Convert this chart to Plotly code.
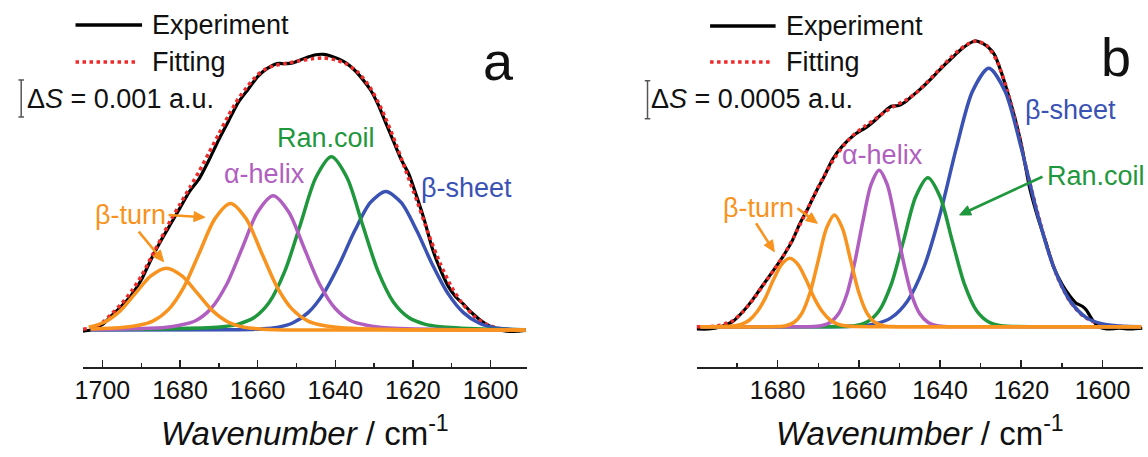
import math
import plotly.graph_objects as go

# ---------------- DATA (absorbance in units of 1e-3 a.u., x in cm-1) ----------------
# Panel a
a_exp_x = [1705, 1703, 1700, 1697.5, 1695, 1692.5, 1690, 1687.5, 1685, 1682.5,
           1680, 1677.5, 1675, 1672.5, 1670, 1667.5, 1665, 1662.5, 1660, 1657.5,
           1655, 1653, 1651, 1649, 1647, 1645, 1643, 1641, 1639, 1637,
           1635, 1633, 1631, 1629, 1627, 1625, 1623, 1621, 1619, 1617,
           1615, 1613, 1611, 1609, 1607, 1605, 1603, 1601, 1599, 1597,
           1595, 1593, 1591]
a_exp_y = [-0.03, 0.0, 0.15, 0.4, 0.65, 0.95, 1.35, 1.9, 2.4, 2.85,
           3.3, 3.75, 4.1, 4.6, 5.15, 5.65, 6.15, 6.5, 6.85, 7.07,
           7.2, 7.2, 7.22, 7.3, 7.38, 7.44, 7.45, 7.4, 7.32, 7.2,
           7.02, 6.78, 6.5, 6.1, 5.6, 5.1, 4.6, 4.2, 3.6, 2.95,
           2.2, 1.65, 1.2, 0.9, 0.7, 0.48, 0.3, 0.15, 0.05, -0.01,
           -0.04, -0.03, -0.01]
a_fit_x = [1705, 1702, 1700, 1697.5, 1695, 1692.5, 1690, 1687.5, 1685, 1682.5,
           1680, 1677.5, 1675, 1672.5, 1670, 1667.5, 1665, 1662.5, 1660, 1657.5,
           1655, 1652, 1649, 1646, 1643, 1640, 1637, 1634, 1631, 1628,
           1625, 1622, 1619, 1616, 1613, 1610, 1607, 1604, 1601, 1598,
           1595, 1591]
a_fit_y = [0.02, 0.08, 0.2, 0.45, 0.72, 1.05, 1.45, 1.95, 2.45, 2.95,
           3.4, 3.85, 4.3, 4.8, 5.3, 5.8, 6.25, 6.6, 6.9, 7.08,
           7.16, 7.22, 7.28, 7.33, 7.35, 7.3, 7.18, 6.95, 6.55, 5.95,
           5.2, 4.35, 3.5, 2.6, 1.8, 1.15, 0.68, 0.35, 0.15, 0.05,
           0.01, 0.0]
a_bturn1_x = [1703.5, 1699.5, 1695.5, 1691.5, 1687.5, 1683.5, 1679.5, 1675.5, 1671.5, 1667.5,
              1663.5, 1659.5, 1655.5, 1645, 1591]
a_bturn1_y = [0.075, 0.21, 0.51, 0.99, 1.46, 1.67, 1.46, 0.99, 0.51, 0.21,
              0.075, 0.03, 0.01, 0.0, 0.0]
a_bturn2_x = [1703, 1695, 1691, 1687, 1683, 1679, 1675, 1671, 1667, 1663,
              1659, 1655, 1651, 1647, 1643, 1639, 1631, 1610, 1591]
a_bturn2_y = [0.03, 0.07, 0.12, 0.24, 0.55, 1.16, 2.09, 3.01, 3.42, 3.01,
              2.09, 1.16, 0.55, 0.24, 0.12, 0.07, 0.03, 0.0, 0.0]
a_helix_x = [1703, 1694, 1684, 1680, 1676, 1672, 1668, 1664, 1660, 1656,
             1652, 1648, 1644, 1640, 1636, 1632, 1628, 1615, 1591]
a_helix_y = [0.01, 0.03, 0.07, 0.13, 0.25, 0.58, 1.23, 2.21, 3.19, 3.63,
             3.19, 2.21, 1.23, 0.58, 0.25, 0.13, 0.07, 0.02, 0.0]
a_coil_x = [1703, 1680, 1669, 1665, 1661, 1657, 1653, 1649, 1645, 1641,
            1637, 1633, 1629, 1625, 1621, 1617, 1613, 1602, 1591]
a_coil_y = [0.01, 0.04, 0.09, 0.16, 0.33, 0.75, 1.59, 2.85, 4.12, 4.68,
            4.12, 2.85, 1.59, 0.75, 0.33, 0.16, 0.09, 0.03, 0.01]
a_sheet_x = [1703, 1665, 1659, 1655, 1651, 1647, 1643, 1639, 1635, 1631,
             1627, 1623, 1619, 1615, 1611, 1607, 1603, 1599, 1595, 1591]
a_sheet_y = [0.0, 0.01, 0.03, 0.07, 0.19, 0.47, 0.99, 1.77, 2.68, 3.44,
             3.74, 3.44, 2.68, 1.77, 0.99, 0.47, 0.19, 0.06, 0.02, 0.0]

# Panel b
b_exp_x = [1700, 1697, 1694, 1691, 1688.5, 1686.5, 1684.5, 1682.5, 1680.5, 1678.5,
           1676.5, 1674.5, 1672.5, 1670.5, 1668.5, 1666.5, 1664, 1661, 1658, 1655.5,
           1653.5, 1652, 1650.2, 1648.5, 1647, 1645, 1643, 1641, 1639, 1637,
           1635, 1633, 1631.5, 1630, 1628.2, 1626.6, 1625, 1623.4, 1621.7, 1620,
           1618, 1616, 1614, 1612, 1610, 1608, 1606.5, 1605, 1604, 1602.5,
           1601, 1599, 1596, 1593, 1590.2]
b_exp_y = [-0.03, -0.03, 0.0, 0.07, 0.2, 0.33, 0.48, 0.63, 0.78, 0.94,
           1.12, 1.36, 1.56, 1.78, 1.98, 2.2, 2.38, 2.53, 2.63, 2.74,
           2.84, 2.9, 2.91, 2.96, 3.03, 3.12, 3.22, 3.33, 3.44, 3.54,
           3.64, 3.72, 3.76, 3.74, 3.68, 3.58, 3.36, 3.09, 2.77, 2.4,
           1.84, 1.45, 1.12, 0.78, 0.56, 0.4, 0.31, 0.27, 0.22, 0.09,
           0.0, -0.03, -0.02, -0.03, -0.02]
b_fit_x = [1700, 1697, 1694, 1691, 1688.5, 1686, 1683.5, 1681, 1678.5, 1676,
           1673.5, 1671, 1668.5, 1666, 1663.5, 1661, 1658.5, 1656, 1653.5, 1651,
           1648.5, 1646, 1643.5, 1641, 1638.5, 1636, 1633.5, 1631, 1628.5, 1626,
           1623.5, 1621, 1618.5, 1616, 1613.5, 1611, 1608, 1605, 1602, 1598,
           1590.5]
b_fit_y = [0.0, 0.0, 0.02, 0.08, 0.2, 0.36, 0.55, 0.74, 0.94, 1.18,
           1.45, 1.73, 1.99, 2.22, 2.4, 2.54, 2.64, 2.73, 2.83, 2.91,
           2.98, 3.07, 3.2, 3.34, 3.48, 3.61, 3.71, 3.76, 3.70, 3.5,
           3.12, 2.62, 2.02, 1.5, 1.02, 0.64, 0.33, 0.15, 0.06, 0.01,
           0.0]
b_bturn1_x = [1699, 1693, 1691, 1689, 1687, 1685, 1683, 1681, 1679, 1677,
              1675, 1673, 1671, 1669, 1667, 1665, 1663, 1661, 1650, 1590.5]
b_bturn1_y = [0.0, 0.002, 0.009, 0.03, 0.085, 0.20, 0.38, 0.62, 0.82, 0.90,
              0.82, 0.62, 0.38, 0.20, 0.085, 0.03, 0.009, 0.002, 0.0, 0.0]
b_bturn2_x = [1699, 1680, 1678, 1676, 1674, 1672, 1670, 1668, 1666, 1664,
              1662, 1660, 1658, 1656, 1654, 1652, 1640, 1590.5]
b_bturn2_y = [0.0, 0.002, 0.013, 0.055, 0.18, 0.45, 0.87, 1.29, 1.47, 1.29,
              0.87, 0.45, 0.18, 0.055, 0.013, 0.002, 0.0, 0.0]
b_helix_x = [1699, 1680, 1671, 1669, 1667, 1665, 1663, 1661, 1659, 1657,
             1655, 1653, 1651, 1649, 1647, 1645, 1643, 1641, 1639, 1625, 1590.5]
b_helix_y = [0.0, 0.0, 0.004, 0.016, 0.059, 0.17, 0.42, 0.85, 1.39, 1.87,
             2.06, 1.87, 1.39, 0.85, 0.42, 0.17, 0.059, 0.016, 0.004, 0.0, 0.0]
b_coil_x = [1699, 1670, 1661, 1658, 1655, 1652, 1649, 1646, 1643, 1640,
            1637, 1634, 1631, 1628, 1625, 1615, 1590.5]
b_coil_y = [0.0, 0.0, 0.013, 0.061, 0.21, 0.56, 1.13, 1.71, 1.96, 1.71,
            1.13, 0.56, 0.21, 0.061, 0.013, 0.0, 0.0]
b_sheet_x = [1699, 1670, 1660, 1656, 1652, 1648, 1644, 1640, 1636, 1632,
             1628, 1624, 1620, 1616, 1612, 1608, 1604, 1600, 1596, 1590.5]
b_sheet_y = [0.0, 0.0, 0.009, 0.037, 0.12, 0.34, 0.78, 1.48, 2.35, 3.10,
             3.40, 3.10, 2.35, 1.48, 0.78, 0.34, 0.12, 0.037, 0.009, 0.0]

tick_vals = [1700, 1680, 1660, 1640, 1620, 1600]
scale_a = 1.0    # 0.001 a.u.
scale_b = 0.5    # 0.0005 a.u.
scale_a_label = "Δ<i>S</i> = 0.001 a.u."
scale_b_label = "Δ<i>S</i> = 0.0005 a.u."
x_title = "<i>Wavenumber</i> / cm<sup>-1</sup>"

# ---------------- STYLE ----------------
FONT = "Liberation Sans, Arial, sans-serif"
C_EXP = "#000000"
C_FIT = "#ee2b2b"
C_TURN = "#f7931e"
C_HELIX = "#b05fc0"
C_COIL = "#1f973c"
C_SHEET = "#3a52b4"
LW = 3.5

W, H = 1148, 457
MT, MB = 20, 90
PH = H - MT - MB


def px(x):
    return x / W


def py(y):
    return (H - MB - y) / PH


fig = go.Figure()


def add_panel(xa, ya, exp, fit, comps):
    fig.add_trace(go.Scatter(x=exp[0], y=exp[1], mode="lines", xaxis=xa, yaxis=ya,
                             line=dict(color=C_EXP, width=3.2, shape="spline", smoothing=0.6)))
    fig.add_trace(go.Scatter(x=fit[0], y=fit[1], mode="lines", xaxis=xa, yaxis=ya,
                             line=dict(color=C_FIT, width=3.5, dash="dot", shape="spline", smoothing=0.6)))
    for cx, cy, col in comps:
        fig.add_trace(go.Scatter(x=cx, y=cy, mode="lines", xaxis=xa, yaxis=ya,
                                 line=dict(color=col, width=LW, shape="spline", smoothing=0.8)))


add_panel("x", "y", (a_exp_x, a_exp_y), (a_fit_x, a_fit_y),
          [(a_sheet_x, a_sheet_y, C_SHEET), (a_coil_x, a_coil_y, C_COIL),
           (a_helix_x, a_helix_y, C_HELIX), (a_bturn2_x, a_bturn2_y, C_TURN),
           (a_bturn1_x, a_bturn1_y, C_TURN)])
add_panel("x2", "y2", (b_exp_x, b_exp_y), (b_fit_x, b_fit_y),
          [(b_sheet_x, b_sheet_y, C_SHEET), (b_coil_x, b_coil_y, C_COIL),
           (b_helix_x, b_helix_y, C_HELIX), (b_bturn2_x, b_bturn2_y, C_TURN),
           (b_bturn1_x, b_bturn1_y, C_TURN)])

xaxis_common = dict(
    showgrid=False, zeroline=False, showline=True, linecolor="#222", linewidth=2,
    ticks="inside", ticklen=7, tickwidth=1.6, tickcolor="#222",
    tickvals=tick_vals, ticktext=[str(v) for v in tick_vals],
    tickfont=dict(family=FONT, size=25, color="#111"),
    minor=dict(ticks="inside", ticklen=4, tickwidth=1.4, tickcolor="#222", dtick=10, tick0=1600),
    autorange=False, fixedrange=True,
)
yaxis_common = dict(visible=False, showgrid=False, zeroline=False, autorange=False, fixedrange=True)

fig.update_layout(
    width=W, height=H, autosize=False,
    margin=dict(l=0, r=0, t=MT, b=MB),
    paper_bgcolor="white", plot_bgcolor="white",
    showlegend=False, hovermode=False,
    font=dict(family=FONT, color="#111"),
    xaxis=dict(domain=[75.5 / W, 523.1 / W], range=[1705, 1590.5], anchor="y", **xaxis_common),
    yaxis=dict(domain=[0, 1], range=[-1.0, 8.378], anchor="x", **yaxis_common),
    xaxis2=dict(domain=[693.6 / W, 1142.7 / W], range=[1699.9, 1590.1], anchor="y2", **xaxis_common),
    yaxis2=dict(domain=[0, 1], range=[-0.53, 4.036], anchor="x2", **yaxis_common),
)

shapes = []
annots = []


def text(x, y, s, size=27, color="#111", xanchor="left"):
    annots.append(dict(x=px(x), y=py(y), xref="paper", yref="paper", text=s, showarrow=False,
                       xanchor=xanchor, yanchor="middle", font=dict(family=FONT, size=size, color=color)))


def arrow(hx, hy, tx, ty, color, head_len=11, head_hw=5):
    dx, dy = hx - tx, hy - ty
    n = math.hypot(dx, dy)
    ux, uy = dx / n, dy / n
    bx, by = hx - ux * head_len, hy - uy * head_len
    shapes.append(dict(type="line", xref="paper", yref="paper", x0=px(tx), y0=py(ty),
                       x1=px(bx + ux * 2), y1=py(by + uy * 2), line=dict(color=color, width=2.6)))
    p1 = (bx - uy * head_hw, by + ux * head_hw)
    p2 = (bx + uy * head_hw, by - ux * head_hw)
    path = "M {:.5f},{:.5f} L {:.5f},{:.5f} L {:.5f},{:.5f} Z".format(
        px(hx), py(hy), px(p1[0]), py(p1[1]), px(p2[0]), py(p2[1]))
    shapes.append(dict(type="path", xref="paper", yref="paper", path=path,
                       fillcolor=color, line=dict(color=color, width=1)))


def legend(x0, x_line_end, x_text, y_exp, y_fit):
    shapes.append(dict(type="line", xref="paper", yref="paper", x0=px(x0), x1=px(x_line_end),
                       y0=py(y_exp), y1=py(y_exp), line=dict(color=C_EXP, width=3.5)))
    shapes.append(dict(type="line", xref="paper", yref="paper", x0=px(x0), x1=px(x_line_end - 6),
                       y0=py(y_fit), y1=py(y_fit), line=dict(color=C_FIT, width=3.5, dash="dot")))
    text(x_text, y_exp, "Experiment")
    text(x_text, y_fit, "Fitting")


def scale_bar(x, yref, y_top, size):
    c = "#555"
    shapes.append(dict(type="line", xref="paper", yref=yref, x0=px(x), x1=px(x),
                       y0=y_top - size, y1=y_top, line=dict(color=c, width=1.5)))
    for yy in (y_top - size, y_top):
        shapes.append(dict(type="line", xref="paper", yref=yref, x0=px(x - 2.8), x1=px(x + 2.8),
                           y0=yy, y1=yy, line=dict(color=c, width=1.5)))


# Panel a decorations
legend(68, 135, 143, 25, 62)
scale_bar(13.3, "y", 6.757, scale_a)
text(17, 99, scale_a_label)
text(494, 61, "a", size=54, xanchor="center")
text(320, 138, "Ran.coil", color=C_COIL, xanchor="center")
text(258, 174, "α-helix", color=C_HELIX, xanchor="center")
text(462, 188, "β-sheet", color=C_SHEET, xanchor="center")
text(123, 215, "β-turn", color=C_TURN, xanchor="center")
arrow(198.3, 217.3, 161.7, 215, C_TURN)
arrow(156.7, 261.7, 131.7, 231.7, C_TURN)
text(299.3, 431, x_title, size=33, xanchor="center")

# Panel b decorations
legend(707, 773, 781, 26, 62)
scale_bar(644, "y2", 3.237, scale_b)
text(646, 99, scale_b_label)
text(1116, 57, "b", size=54, xanchor="center")
text(1070, 110, "β-sheet", color=C_SHEET, xanchor="center")
text(1096, 176, "Ran.coil", color=C_COIL, xanchor="center")
text(881, 155, "α-helix", color=C_HELIX, xanchor="center")
text(756, 208, "β-turn", color=C_TURN, xanchor="center")
arrow(815, 223.3, 795, 208.3, C_TURN)
arrow(771.7, 251.7, 753.3, 223.3, C_TURN)
arrow(958.3, 215, 1041.7, 176.7, C_COIL)
text(918.2, 431, x_title, size=33, xanchor="center")

fig.update_layout(shapes=shapes, annotations=annots)
fig.write_html("out.html", config={"displayModeBar": False, "staticPlot": True})
